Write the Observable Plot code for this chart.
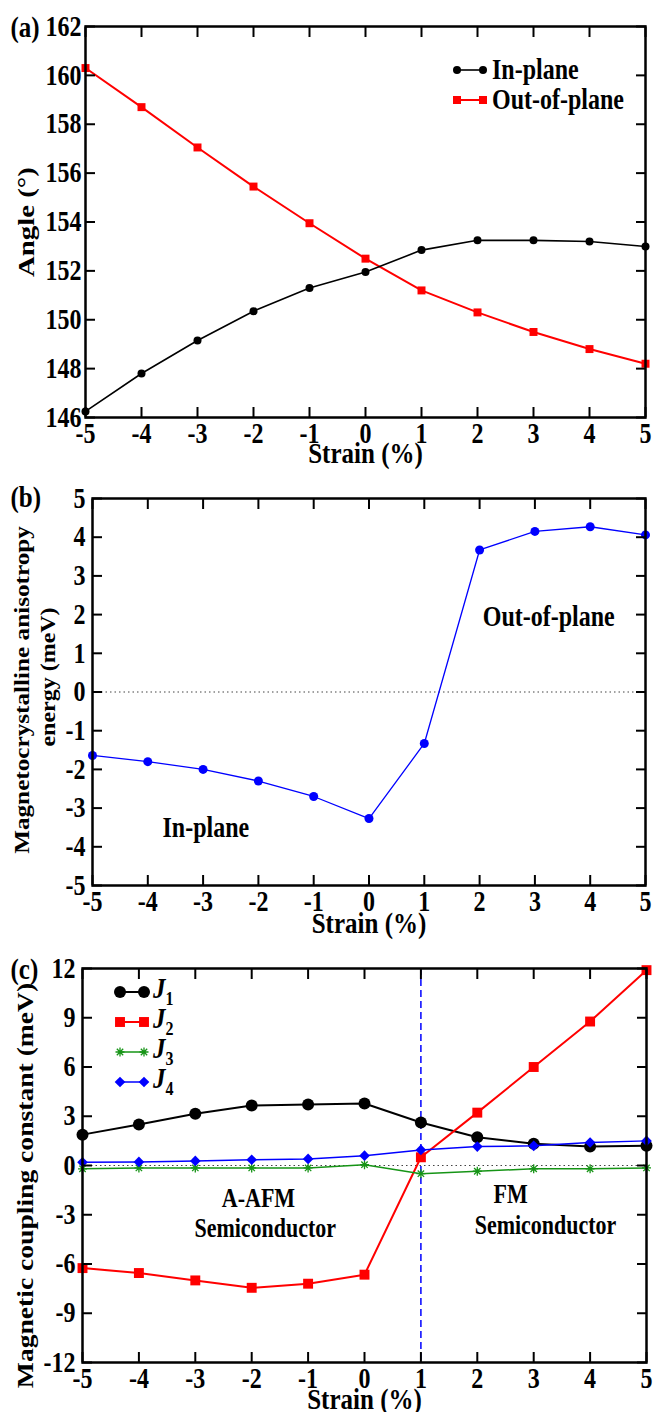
<!DOCTYPE html>
<html><head><meta charset="utf-8">
<script src="https://cdn.jsdelivr.net/npm/d3@7"></script>
<script src="https://cdn.jsdelivr.net/npm/@observablehq/plot@0.6"></script>
<style>
body{margin:0;background:#fff;}
#wrap{position:relative;width:653px;height:1412px;overflow:hidden;background:#fff;}
#wrap svg{position:absolute;left:0;}
</style></head><body><div id="wrap"></div>
<script>
// ---------- data ----------
const strain = [-5,-4,-3,-2,-1,0,1,2,3,4,5];
const angleInPlane  = [146.25,147.8,149.15,150.35,151.3,151.95,152.85,153.25,153.25,153.2,153.0];
const angleOutPlane = [160.3,158.7,157.05,155.45,153.95,152.5,151.2,150.3,149.5,148.8,148.2];
const mae = [-1.64,-1.8,-2.0,-2.3,-2.7,-3.27,-1.33,3.67,4.15,4.27,4.06];
const J1 = [1.88,2.5,3.15,3.65,3.72,3.78,2.62,1.72,1.33,1.15,1.2];
const J2 = [-6.25,-6.55,-7.0,-7.45,-7.2,-6.65,0.5,3.22,6.0,8.77,11.9];
const J3 = [-0.2,-0.15,-0.15,-0.15,-0.15,0.05,-0.5,-0.35,-0.2,-0.2,-0.15];
const J4 = [0.2,0.22,0.28,0.35,0.4,0.6,0.95,1.15,1.2,1.4,1.5];
const angleTicks = [146,148,150,152,154,156,158,160,162];
const maeTicks = [-5,-4,-3,-2,-1,0,1,2,3,4,5];
const jTicks = [-12,-9,-6,-3,0,3,6,9,12];
const phaseBoundary = [1];
const maeNotes = [{x:3.25,y:1.95,text:"Out-of-plane"},{x:-2.95,y:-3.5,text:"In-plane"}];
const jNotes = [{x:-1.88,y:-2.0,text:"A-AFM"},{x:-1.76,y:-3.85,text:"Semiconductor"},
                {x:2.59,y:-1.75,text:"FM"},{x:3.21,y:-3.65,text:"Semiconductor"}];

// ---------- helpers ----------
const FONT = '"Liberation Serif","Times New Roman",serif';
const SY = 1.2;
const GREEN = "#169416";
const asterisk8 = {draw(ctx, size){const r=Math.sqrt(size/Math.PI);
  for(let k=0;k<4;k++){const a=k*Math.PI/4;ctx.moveTo(-r*Math.cos(a),-r*Math.sin(a));ctx.lineTo(r*Math.cos(a),r*Math.sin(a));}}};

function stretch(svg){
  svg.querySelectorAll("text").forEach(t=>{
    const tr=t.getAttribute("transform");
    if(tr){t.setAttribute("transform",tr+(tr.includes("rotate")?` scale(${SY},1)`:` scale(1,${SY})`));}
    else{const x=+t.getAttribute("x")||0,y=+t.getAttribute("y")||0;
      t.setAttribute("transform",`translate(${x},${y}) scale(1,${SY}) translate(${-x},${-y})`);}
  });
}

function frameAxes(yTicks, yPad){
  const fmt = d=>String(d);
  const none = ()=>"";
  return [
    Plot.axisX(strain,{anchor:"bottom",tickSize:0,tickPadding:5,tickFormat:fmt,label:null}),
    Plot.axisX(strain,{anchor:"bottom",tickSize:10,dy:-10,tickFormat:none,label:null,strokeWidth:2}),
    Plot.axisX(strain,{anchor:"top",tickSize:10,dy:10,tickFormat:none,label:null,strokeWidth:2}),
    Plot.axisY(yTicks,{anchor:"left",tickSize:0,tickPadding:yPad,tickFormat:fmt,label:null}),
    Plot.axisY(yTicks,{anchor:"left",tickSize:10,dx:10,tickFormat:none,label:null,strokeWidth:2}),
    Plot.axisY(yTicks,{anchor:"right",tickSize:10,dx:-10,tickFormat:none,label:null,strokeWidth:2}),
    Plot.frame({strokeWidth:2.5})
  ];
}

function panel({top,height,ml,mr,mt,mb,yDomain,yTicks,yPad,titleDy,marks}){
  const svg = Plot.plot({
    width:653,height,marginLeft:ml,marginRight:mr,marginTop:mt,marginBottom:mb,
    x:{domain:[-5,5]}, y:{domain:yDomain},
    style:{fontFamily:FONT,fontWeight:"bold",fontSize:"24px",color:"black",background:"transparent",overflow:"visible"},
    marks:[...marks,...frameAxes(yTicks,yPad),
      Plot.text(["Strain (%)"],{frameAnchor:"bottom",dy:titleDy,textAnchor:"middle",lineAnchor:"middle",fontSize:25})]
  });
  svg.style.top = top+"px";
  stretch(svg);
  document.getElementById("wrap").appendChild(svg);
}

const rows = strain.map((s,i)=>({s,inP:angleInPlane[i],outP:angleOutPlane[i],mae:mae[i],J1:J1[i],J2:J2[i],J3:J3[i],J4:J4[i]}));
const ylab = (txt,dx,dy,fs)=>Plot.text([txt],{frameAnchor:"left",dx,dy,rotate:-90,textAnchor:"middle",lineAnchor:"middle",fontSize:fs});
const tag = (txt,dx,dy)=>Plot.text([txt],{frameAnchor:"top-left",dx,dy,textAnchor:"start",lineAnchor:"middle",fontSize:25});

// ---------- panel (a) ----------
panel({top:0,height:470,ml:85,mr:8,mt:26,mb:53,yDomain:[146,162],yTicks:angleTicks,yPad:4,titleDy:36,marks:[
  Plot.line(rows,{x:"s",y:"outP",stroke:"#ff0000",strokeWidth:2}),
  Plot.dot(rows,{x:"s",y:"outP",symbol:"square",r:4.5,fill:"#ff0000"}),
  Plot.line(rows,{x:"s",y:"inP",stroke:"black",strokeWidth:1.6}),
  Plot.dot(rows,{x:"s",y:"inP",r:4,fill:"black"}),
  ylab("Angle (°)",-59,0,24),
  tag("(a)",-75,1)
]});

// ---------- panel (b) ----------
panel({top:470,height:470,ml:92,mr:8,mt:28,mb:55,yDomain:[-5,5],yTicks:maeTicks,yPad:7,titleDy:38,marks:[
  Plot.ruleY([0],{stroke:"#444",strokeWidth:1.2,strokeDasharray:"1.5,3"}),
  Plot.line(rows,{x:"s",y:"mae",stroke:"#0000ff",strokeWidth:1.3}),
  Plot.dot(rows,{x:"s",y:"mae",r:4.5,fill:"#0000ff"}),
  Plot.text(maeNotes,{x:"x",y:"y",text:"text",fontSize:24}),
  ylab("Magnetocrystalline anisotropy",-70,-2,21),
  ylab("energy (meV)",-44,-15,20),
  tag("(b)",-82,-1)
]});

// ---------- panel (c) ----------
panel({top:940,height:472,ml:82,mr:7,mt:28,mb:50,yDomain:[-12,12],yTicks:jTicks,yPad:7,titleDy:37,marks:[
  Plot.ruleY([0],{stroke:"#444",strokeWidth:1.2,strokeDasharray:"1.5,3"}),
  Plot.ruleX(phaseBoundary,{stroke:"#0000ff",strokeWidth:1.5,strokeDasharray:"7,4"}),
  Plot.line(rows,{x:"s",y:"J1",stroke:"black",strokeWidth:2}),
  Plot.dot(rows,{x:"s",y:"J1",r:6,fill:"black"}),
  Plot.line(rows,{x:"s",y:"J2",stroke:"#ff0000",strokeWidth:2}),
  Plot.dot(rows,{x:"s",y:"J2",symbol:"square",r:5.6,fill:"#ff0000"}),
  Plot.line(rows,{x:"s",y:"J3",stroke:GREEN,strokeWidth:1.5}),
  Plot.dot(rows,{x:"s",y:"J3",symbol:asterisk8,r:4.5,fill:"none",stroke:GREEN,strokeWidth:1.3}),
  Plot.line(rows,{x:"s",y:"J4",stroke:"#0000ff",strokeWidth:1.5}),
  Plot.dot(rows,{x:"s",y:"J4",symbol:"diamond2",r:4.8,fill:"#0000ff"}),
  Plot.text(jNotes,{x:"x",y:"y",text:"text",fontSize:22}),
  ylab("Magnetic coupling constant (meV)",-57,20,23),
  tag("(c)",-72,1)
]});

// ---------- legends (overlay) ----------
const ov = d3.select("#wrap").append("svg").attr("width",653).attr("height",1412)
  .style("top","0px").style("pointer-events","none")
  .style("font-family",FONT).style("font-weight","bold");
function sym(type,r,x,y,fill,stroke,sw){
  ov.append("path").attr("d",d3.symbol(type,r*r*Math.PI)()).attr("transform",`translate(${x},${y})`)
    .attr("fill",fill).attr("stroke",stroke||"none").attr("stroke-width",sw||0);
}
function row(x1,x2,y,color,lw,type,r,fill,stroke,sw){
  ov.append("line").attr("x1",x1).attr("x2",x2).attr("y1",y).attr("y2",y).attr("stroke",color).attr("stroke-width",lw);
  sym(type,r,x1,y,fill,stroke,sw); sym(type,r,x2,y,fill,stroke,sw);
}
function label(x,y,txt,fs){
  ov.append("text").attr("transform",`translate(${x},${y}) scale(1,${SY})`).attr("dy","0.32em")
    .attr("font-size",fs).text(txt);
}
row(457,483,70,"black",1.6,d3.symbolCircle,4,"black"); label(492,70,"In-plane",24);
row(457,483,100,"#ff0000",2,d3.symbolSquare,4.5,"#ff0000"); label(492,100,"Out-of-plane",24);

const jLeg = [
  {c:"black",lw:2,t:d3.symbolCircle,r:6,f:"black",s:null,sw:0,n:"1"},
  {c:"#ff0000",lw:2,t:d3.symbolSquare,r:5.6,f:"#ff0000",s:null,sw:0,n:"2"},
  {c:GREEN,lw:1.5,t:asterisk8,r:4.5,f:"none",s:GREEN,sw:1.3,n:"3"},
  {c:"#0000ff",lw:1.5,t:d3.symbolDiamond2,r:4.8,f:"#0000ff",s:null,sw:0,n:"4"}];
const jRowY = [992,1022,1052,1082];
jLeg.forEach((d,i)=>{
  const y=jRowY[i];
  row(120,144,y,d.c,d.lw,d.t,d.r,d.f,d.s,d.sw);
  const t=ov.append("text").attr("transform",`translate(153,${y}) scale(1,${SY})`).attr("dy","0.3em");
  t.append("tspan").attr("font-style","italic").attr("font-size",25).text("J");
  t.append("tspan").attr("font-size",16).attr("dy",6).text(d.n);
});
</script></body></html>
